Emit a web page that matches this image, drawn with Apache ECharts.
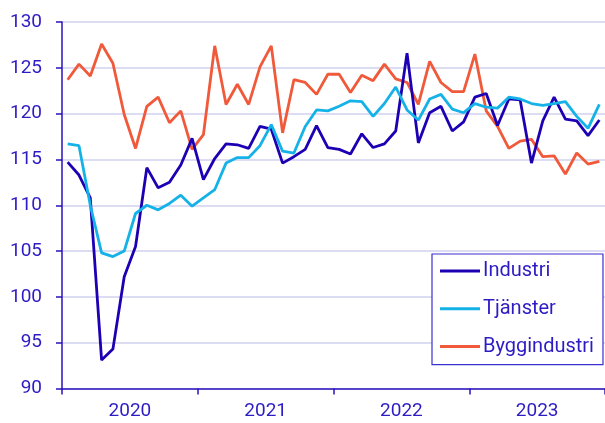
<!DOCTYPE html>
<html>
<head>
<meta charset="utf-8">
<script src="https://cdn.jsdelivr.net/npm/echarts@6/dist/echarts.min.js"></script>
<style>html,body{margin:0;padding:0;background:#fff}#c{width:605px;height:423px}</style>
</head>
<body>
<div id="c"></div>
<script>
const years = ['2020', '2021', '2022', '2023'];
const months = [];
years.forEach(y => { for (let m = 1; m <= 12; m++) months.push(y + '-' + String(m).padStart(2, '0')); });

const industri = [114.7, 113.3, 110.8, 93.1, 94.3, 102.2, 105.5, 114.1, 111.9, 112.5, 114.4, 117.3,
  112.8, 115.1, 116.7, 116.6, 116.2, 118.6, 118.3, 114.6, 115.3, 116.1, 118.7, 116.3,
  116.1, 115.6, 117.8, 116.3, 116.7, 118.1, 126.6, 116.8, 120.1, 120.8, 118.1, 119.1,
  121.8, 122.2, 118.7, 121.6, 121.5, 114.6, 119.2, 121.8, 119.4, 119.2, 117.6, 119.3];
const tjanster = [116.7, 116.5, 110.0, 104.8, 104.4, 105.0, 109.1, 110.0, 109.5, 110.2, 111.1, 109.9,
  110.8, 111.7, 114.6, 115.2, 115.2, 116.5, 118.8, 115.9, 115.7, 118.6, 120.4, 120.3,
  120.8, 121.4, 121.3, 119.7, 121.1, 122.9, 120.4, 119.3, 121.6, 122.1, 120.5, 120.1,
  121.1, 120.7, 120.6, 121.8, 121.6, 121.1, 120.9, 121.1, 121.3, 119.7, 118.4, 121.0];
const bygg = [123.7, 125.4, 124.1, 127.6, 125.5, 119.9, 116.2, 120.8, 121.8, 119.0, 120.3, 116.1,
  117.7, 127.4, 121.0, 123.2, 121.0, 125.1, 127.4, 117.9, 123.7, 123.4, 122.1, 124.3,
  124.3, 122.3, 124.2, 123.6, 125.4, 123.8, 123.4, 121.0, 125.7, 123.4, 122.4, 122.4,
  126.5, 120.3, 118.6, 116.2, 117.0, 117.2, 115.3, 115.4, 113.4, 115.7, 114.5, 114.8];

const textColor = '#2d1cc4';
const axisColor = '#2a12bf';
const font = 'Roboto';

const chart = echarts.init(document.getElementById('c'), null, { renderer: 'canvas' });
chart.setOption({
  animation: false,
  backgroundColor: '#fff',
  grid: { left: 62, right: 0, top: 22, bottom: 34.5, containLabel: false },
  legend: {
    orient: 'vertical',
    left: 432, top: 254,
    padding: [6, 9, 7, 8],
    borderColor: '#3a2fd0', borderWidth: 1.2,
    backgroundColor: '#fff',
    icon: 'rect', itemWidth: 40, itemHeight: 3, itemGap: 15.8,
    textStyle: { color: textColor, fontFamily: font, fontSize: 20, lineHeight: 22, padding: [0, 0, 0, -2] },
    data: ['Industri', 'Tjänster', 'Byggindustri']
  },
  xAxis: [
    { type: 'category', data: months, boundaryGap: true, show: false },
    {
      type: 'category', data: years, boundaryGap: true, position: 'bottom',
      axisLine: { lineStyle: { color: axisColor, width: 1.5 } },
      axisTick: { show: true, length: 6, lineStyle: { color: axisColor, width: 1.5 } },
      axisLabel: { color: textColor, fontFamily: font, fontSize: 19, margin: 13 },
      splitLine: { show: false }
    }
  ],
  yAxis: {
    type: 'value', min: 90, max: 130, interval: 5,
    axisLine: { show: true, lineStyle: { color: axisColor, width: 1.5 } },
    axisTick: { show: true, length: 6, lineStyle: { color: axisColor, width: 1.5 } },
    axisLabel: { color: textColor, fontFamily: font, fontSize: 19, margin: 20 },
    splitLine: { lineStyle: { color: '#dcdcf2', width: 2 } }
  },
  series: [
    { name: 'Industri', type: 'line', xAxisIndex: 0, data: industri, symbol: 'none', z: 3,
      lineStyle: { color: '#1e00b4', width: 2.8 }, itemStyle: { color: '#1e00b4' } },
    { name: 'Tjänster', type: 'line', xAxisIndex: 0, data: tjanster, symbol: 'none', z: 4,
      lineStyle: { color: '#15b2e8', width: 2.8 }, itemStyle: { color: '#15b2e8' } },
    { name: 'Byggindustri', type: 'line', xAxisIndex: 0, data: bygg, symbol: 'none', z: 2,
      lineStyle: { color: '#f05a3a', width: 2.8 }, itemStyle: { color: '#f05a3a' } }
  ]
});
</script>
</body>
</html>
